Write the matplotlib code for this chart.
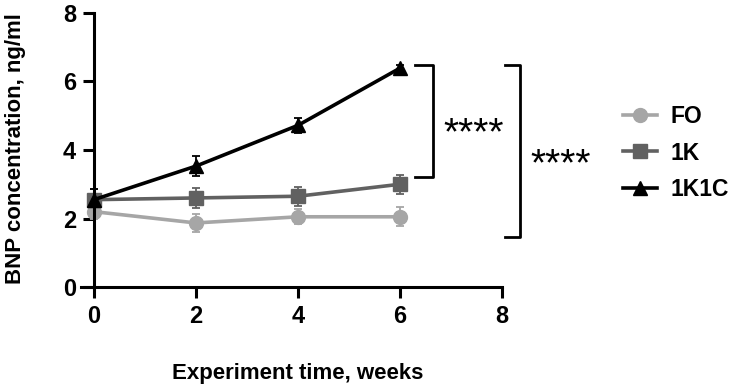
import matplotlib.pyplot as plt
from matplotlib.lines import Line2D

plt.rcParams['font.family'] = ['Liberation Sans', 'DejaVu Sans']
plt.rcParams['font.weight'] = 'bold'

# 数据
weeks = [0, 2, 4, 6]
fo = [2.2, 1.87, 2.05, 2.05]
fo_err = [0.2, 0.25, 0.22, 0.28]
k1 = [2.55, 2.6, 2.65, 3.0]
k1_err = [0.3, 0.28, 0.28, 0.28]
k1c = [2.55, 3.53, 4.72, 6.39]
k1c_err = [0.3, 0.3, 0.22, 0.08]
names = ['FO', '1K', '1K1C']
colors = ['#a6a6a6', '#616161', 'black']
markers = ['o', 's', '^']

fig = plt.figure(figsize=(7.32, 3.89), dpi=100)
ax = fig.add_axes([0.1284, 0.2622, 0.5574, 0.7044])

style = dict(lw=2.6, ms=10, capsize=3, elinewidth=1.3, capthick=1.3, clip_on=False)
for y, e, c, m, n in zip([fo, k1, k1c], [fo_err, k1_err, k1c_err], colors, markers, names):
    ax.errorbar(weeks, y, yerr=e, color=c, marker=m, label=n, **style)

ax.set_xlim(0, 8)
ax.set_ylim(0, 8)
ax.set_xticks([0, 2, 4, 6, 8])
ax.set_yticks([0, 2, 4, 6, 8])
ax.spines['top'].set_visible(False)
ax.spines['right'].set_visible(False)
for s in ['left', 'bottom']:
    ax.spines[s].set_linewidth(2.2)
ax.spines['bottom'].set_bounds(-0.25, 8)
ax.tick_params(width=2.2, length=8, labelsize=17, pad=5)
for lab in ax.get_xticklabels() + ax.get_yticklabels():
    lab.set_fontweight('bold')
ax.set_xlabel('Experiment time, weeks', fontsize=16, fontweight='bold')
ax.set_ylabel('BNP concentration, ng/ml', fontsize=16, fontweight='bold')
ax.xaxis.set_label_coords(0.499, -0.277)
ax.yaxis.set_label_coords(-0.167, 0.507)

# 显著性括号
ax.plot([6.3, 6.65, 6.65, 6.3], [6.48, 6.48, 3.21, 3.21], color='black', lw=2, clip_on=False)
ax.plot([8.05, 8.35, 8.35, 8.05], [6.48, 6.48, 1.46, 1.46], color='black', lw=2, clip_on=False)
ax.text(6.85, 4.45, '****', fontsize=28, fontweight='normal', va='center', ha='left')
ax.text(8.55, 3.55, '****', fontsize=28, fontweight='normal', va='center', ha='left')

handles = [Line2D([], [], color=c, marker=m, lw=2.6, ms=10) for c, m in zip(colors, markers)]
leg = ax.legend(handles, names, loc='center left', bbox_to_anchor=(1.245, 0.489), frameon=False,
                fontsize=16.5, handlelength=1.5, labelspacing=0.6, handletextpad=0.6)
for t in leg.get_texts():
    t.set_fontweight('bold')

plt.savefig('out.png', dpi=100)
